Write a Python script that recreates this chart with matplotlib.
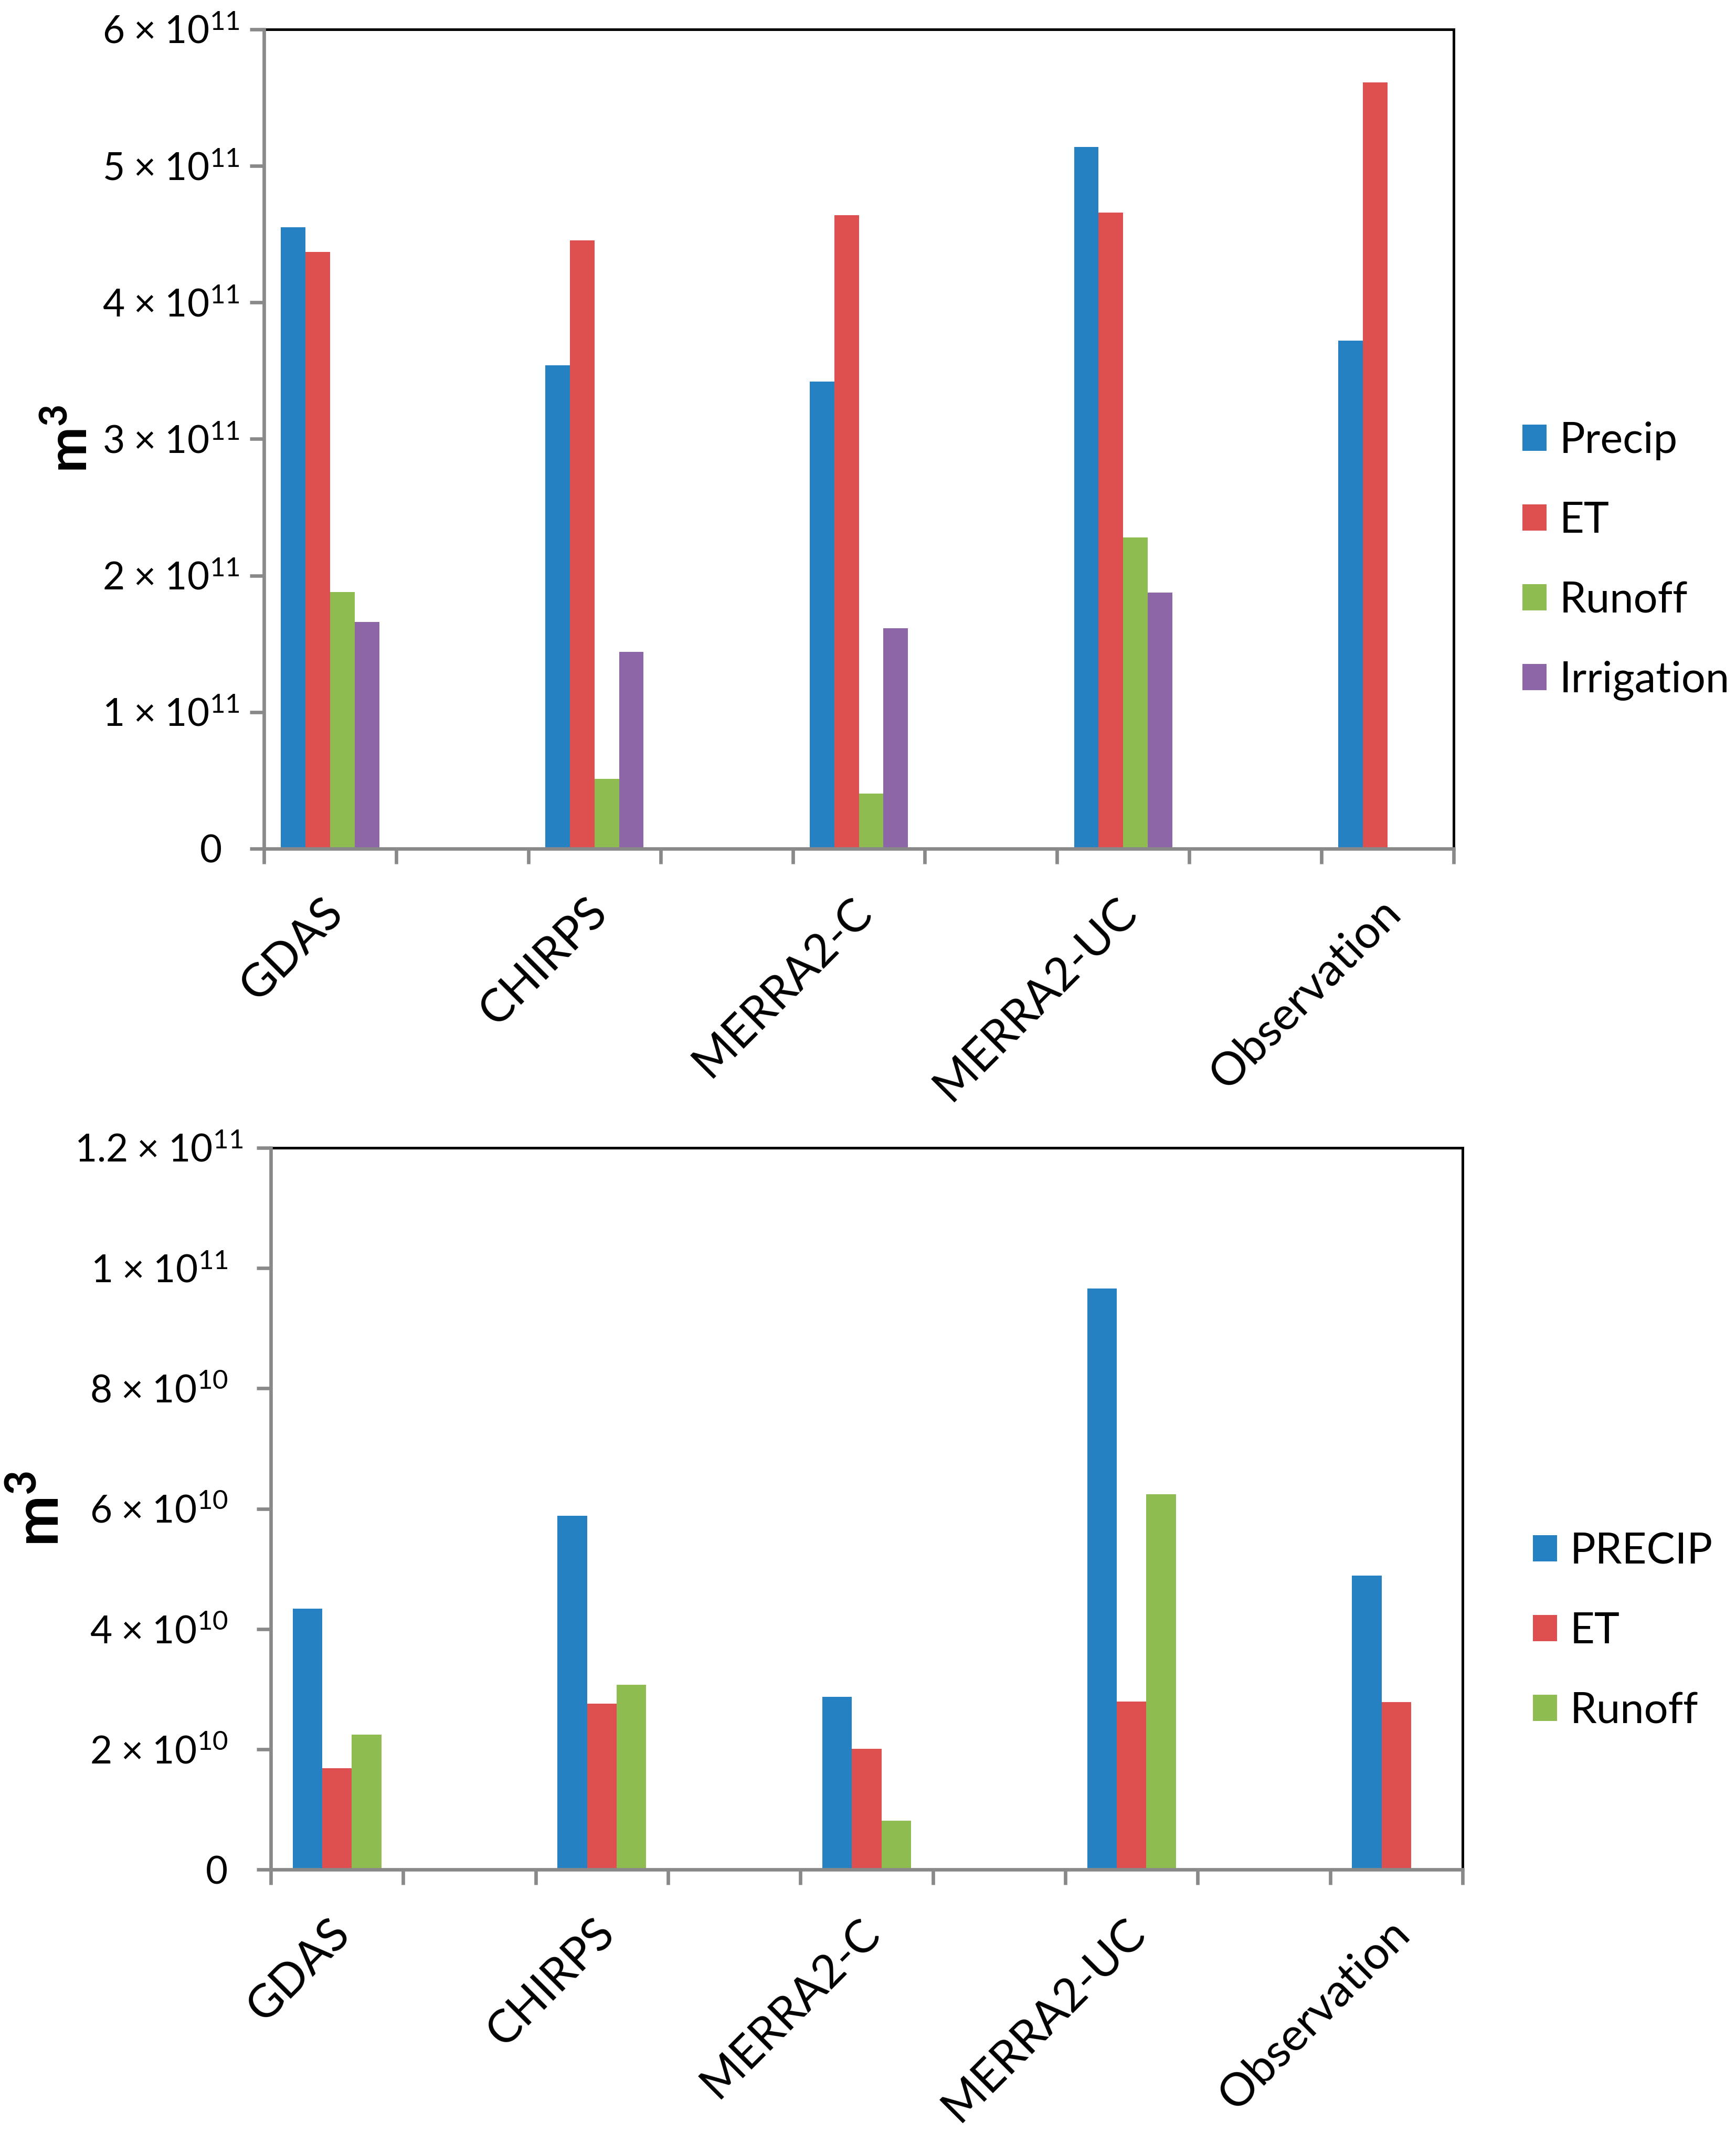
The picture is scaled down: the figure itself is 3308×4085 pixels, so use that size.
import numpy as np
import matplotlib
matplotlib.use("Agg")
import matplotlib.pyplot as plt
from matplotlib.transforms import ScaledTranslation

plt.rcParams['font.family'] = ['Lato', 'DejaVu Sans']
plt.rcParams['mathtext.fontset'] = 'custom'
plt.rcParams['mathtext.rm'] = 'Lato'
plt.rcParams['mathtext.it'] = 'Lato:italic'
plt.rcParams['mathtext.bf'] = 'Lato:bold'

# ---------------- data ----------------
categories = ['GDAS', 'CHIRPS', 'MERRA2-C', 'MERRA2-UC', 'Observation']

# top panel (m^3)
top_precip = [4.55e11, 3.54e11, 3.42e11, 5.14e11, 3.72e11]
top_et = [4.37e11, 4.455e11, 4.64e11, 4.66e11, 5.61e11]
top_runoff = [1.88e11, 0.51e11, 0.405e11, 2.28e11, np.nan]
top_irrigation = [1.66e11, 1.44e11, 1.615e11, 1.877e11, np.nan]
top_labels = ['Precip', 'ET', 'Runoff', 'Irrigation']

# bottom panel (m^3)
bot_precip = [4.34e10, 5.88e10, 2.87e10, 9.66e10, 4.89e10]
bot_et = [1.685e10, 2.76e10, 2.01e10, 2.79e10, 2.78e10]
bot_runoff = [2.24e10, 3.07e10, 0.81e10, 6.24e10, np.nan]
bot_labels = ['PRECIP', 'ET', 'Runoff']

top_yticks = [0, 1e11, 2e11, 3e11, 4e11, 5e11, 6e11]
top_yticklabels = ['0', '1', '2', '3', '4', '5', '6']
top_exponents = ['', '11', '11', '11', '11', '11', '11']
bot_yticks = [0, 2e10, 4e10, 6e10, 8e10, 1e11, 1.2e11]
bot_yticklabels = ['0', '2', '4', '6', '8', '1', '1.2']
bot_exponents = ['', '10', '10', '10', '10', '11', '11']

colors = ['#2581C2', '#DE504F', '#8FBC50', '#8C66A6']
GRAY = '#898989'
FS_LEG = 19.5
FS_Y = 17.5
FS_X = 21

W, H = 3308, 4085
DPI = 300
fig = plt.figure(figsize=(W / DPI, H / DPI), dpi=DPI)

ax1 = fig.add_axes([503 / W, 1 - 1617 / H, (2770 - 503) / W, (1617 - 56) / H])
ax2 = fig.add_axes([516 / W, 1 - 3562 / H, (2787 - 516) / W, (3562 - 2187) / H])

n_slots = 2 * len(categories) - 1
centers = np.arange(len(categories)) * 2


def px(dx, dy=0):
    return ScaledTranslation(dx / DPI, dy / DPI, fig.dpi_scale_trans)


def sci(mant, expo):
    if not expo:
        return mant
    return r'$%s\hspace{0.1}\times\hspace{0.1}10^{%s}$' % (mant, expo)


def style(ax, yticks, mants, expos, ymax, ylab_size, ylab_x, ypad):
    ax.set_xlim(-0.5, n_slots - 0.5)
    ax.set_ylim(0, ymax)
    for s in ['left', 'bottom']:
        ax.spines[s].set_color(GRAY)
        ax.spines[s].set_linewidth(1.6)
        ax.spines[s].set_zorder(5)
    for s in ['top', 'right']:
        ax.spines[s].set_color('black')
        ax.spines[s].set_linewidth(1.2)
        ax.spines[s].set_zorder(4)
    ax.set_xticks(np.arange(n_slots + 1) - 0.5)
    ax.set_xticklabels([])
    ax.tick_params(axis='x', which='major', direction='out', length=7, width=1.6, color=GRAY)
    ax.set_xticks(centers, categories, minor=True)
    ax.tick_params(axis='x', which='minor', length=0, pad=26, labelsize=FS_X)
    ax.set_yticks(yticks, [sci(m, e) for m, e in zip(mants, expos)])
    ax.tick_params(axis='y', direction='out', length=6.4, width=1.6, color=GRAY,
                   labelsize=FS_Y, pad=ypad)
    for lab in ax.get_xticklabels(minor=True):
        lab.set_rotation(45)
        lab.set_rotation_mode('anchor')
        lab.set_ha('right')
        lab.set_va('center')
        lab.set_transform(lab.get_transform() + px(12, 0))
    ax.set_ylabel(r'$\mathbf{m^3}$', fontsize=ylab_size)
    ax.yaxis.set_label_coords(ylab_x, 0.5)


# top panel
wt = 0.186
for k, (vals, lab) in enumerate(zip([top_precip, top_et, top_runoff, top_irrigation], top_labels)):
    ax1.bar(centers + (k - 1.5) * wt, vals, width=wt, color=colors[k], label=lab, zorder=3)
style(ax1, top_yticks, top_yticklabels, top_exponents, 6e11, 25, (184 - 503) / 2267, 4.8)
# Excel places the bare "0" a little further left
lab0 = ax1.get_yticklabels()[0]
lab0.set_transform(lab0.get_transform() + px(-33, 0))

# bottom panel
wb = 0.223
for k, (vals, lab) in enumerate(zip([bot_precip, bot_et, bot_runoff], bot_labels)):
    ax2.bar(centers + (k - 1) * wb, vals, width=wb, color=colors[k], label=lab, zorder=3)
style(ax2, bot_yticks, bot_yticklabels, bot_exponents, 1.2e11, 28, (132 - 516) / 2271, 13.2)
lab12 = ax2.get_yticklabels()[-1]
lab12.set_transform(lab12.get_transform() + px(29, 0))

leg_kw = dict(frameon=False, fontsize=FS_LEG, handlelength=0.57, handleheight=0.57,
              handletextpad=0.3, labelspacing=0.96, borderpad=0, borderaxespad=0,
              loc='center left', bbox_transform=fig.transFigure)
ax1.legend(bbox_to_anchor=(2901 / W, 1 - 1069 / H), **leg_kw)
ax2.legend(bbox_to_anchor=(2921 / W, 1 - 3108 / H), **leg_kw)

fig.savefig('out.png', dpi=DPI, facecolor='white')
